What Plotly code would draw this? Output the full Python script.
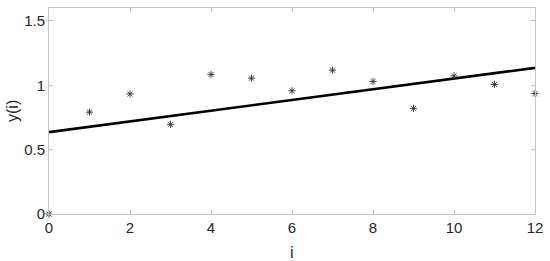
import plotly.graph_objects as go

# sample values y(i), i = 0..12
i_vals = [0, 1, 2, 3, 4, 5, 6, 7, 8, 9, 10, 11, 12]
y_vals = [0.0, 0.791, 0.933, 0.696, 1.084, 1.055, 0.957, 1.117, 1.029, 0.820, 1.073, 1.006, 0.936]

# fitted trend line end points
fit_x = [0, 12]
fit_y = [0.636, 1.135]

x_ticks = [0, 2, 4, 6, 8, 10, 12]
y_ticks = [0, 0.5, 1, 1.5]
y_tick_text = ["0", "0.5", "1", "1.5"]

font_family = "Liberation Sans, Arial"

fig = go.Figure()
fig.add_trace(go.Scatter(
    x=fit_x, y=fit_y, mode="lines",
    line=dict(color="black", width=2.6),
    showlegend=False, cliponaxis=False,
))
fig.add_trace(go.Scatter(
    x=i_vals, y=y_vals, mode="markers",
    marker=dict(symbol="asterisk-open", size=6, color="#333333",
                line=dict(width=0.9, color="#333333")),
    showlegend=False, cliponaxis=False,
))

axis_style = dict(
    showline=True, linecolor="#c4c4c4", linewidth=1, mirror="ticks",
    ticks="inside", ticklen=4, tickcolor="#c4c4c4", tickwidth=1,
    showgrid=False, zeroline=False, automargin=False,
    tickfont=dict(family=font_family, size=15, color="#262626"),
)

fig.update_xaxes(range=[0, 12], tickvals=x_ticks, **axis_style)
fig.update_yaxes(range=[0, 1.6], tickvals=y_ticks, ticktext=y_tick_text,
                 **axis_style)

# axis titles placed like the original
fig.add_annotation(text="i", xref="paper", yref="paper", x=0.5, y=0,
                   yshift=-38, showarrow=False, yanchor="middle",
                   font=dict(family=font_family, size=16, color="#262626"))
fig.add_annotation(text="y(i)", xref="paper", yref="paper", x=0, y=0.5,
                   xshift=-37, textangle=-90, showarrow=False, xanchor="center",
                   font=dict(family=font_family, size=16, color="#262626"))

fig.update_layout(
    width=550, height=261,
    margin=dict(l=49, r=15, t=8, b=47),
    plot_bgcolor="white", paper_bgcolor="white",
)

# drop the default page margin so the figure sits at the window corner
fig.write_html("out.html", config={"displayModeBar": False},
               post_script="document.body.style.margin='0';")
